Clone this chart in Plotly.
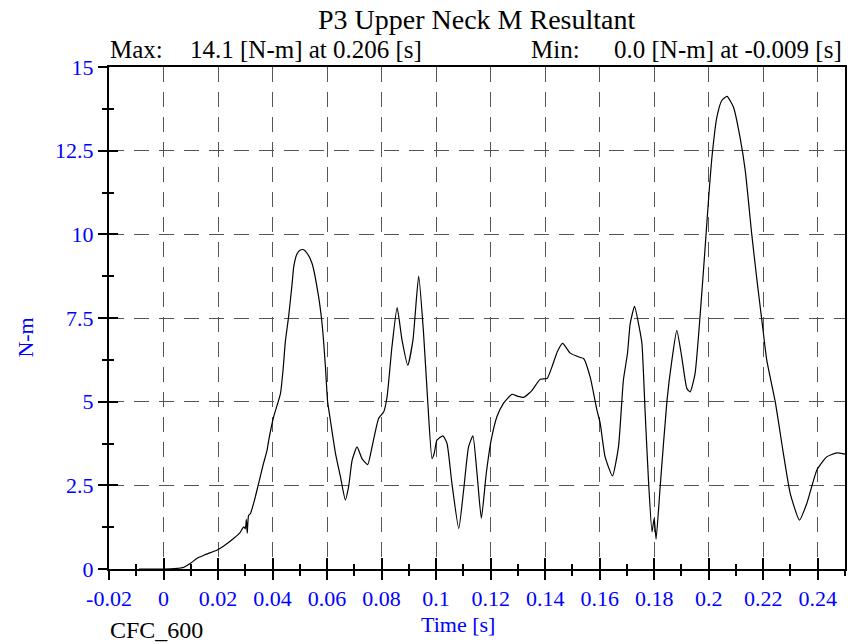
import plotly.graph_objects as go

# ---- data ----
time_s = [-0.009, 0.000, 0.004, 0.0074, 0.0099, 0.0123, 0.015, 0.0197, 0.0221, 0.0258,
          0.028, 0.0294, 0.0300, 0.0304, 0.0307, 0.0312, 0.0319, 0.0335, 0.0349, 0.0365,
          0.038, 0.0386, 0.0404, 0.0429, 0.0439, 0.0447, 0.0459, 0.0472, 0.0478, 0.049,
          0.0502, 0.0514, 0.0528, 0.0545, 0.0569, 0.0582, 0.0594, 0.0602, 0.0613, 0.0631,
          0.0649, 0.0667, 0.0679, 0.0692, 0.0710, 0.0728, 0.0749, 0.0765, 0.0789, 0.0808,
          0.0820, 0.0838, 0.0857, 0.0875, 0.0896, 0.0915, 0.0936, 0.0954, 0.0969, 0.0985,
          0.0993, 0.1003, 0.1025, 0.1040, 0.1058, 0.1083, 0.1101, 0.1119, 0.1135, 0.1150,
          0.1166, 0.1184, 0.1202, 0.1223, 0.1247, 0.1278, 0.1300, 0.1321, 0.1352, 0.1382,
          0.1407, 0.1425, 0.1445, 0.1464, 0.1492, 0.1529, 0.1541, 0.1565, 0.1590, 0.1602,
          0.1620, 0.1647, 0.1669, 0.1687, 0.1702, 0.1712, 0.1728, 0.1745, 0.1755, 0.1767,
          0.1779, 0.1792, 0.1800, 0.1807, 0.1822, 0.1847, 0.1865, 0.1883, 0.1901, 0.1920,
          0.1932, 0.1950, 0.1969, 0.1987, 0.2000, 0.2012, 0.2030, 0.2048, 0.2067, 0.2091,
          0.2115, 0.2134, 0.2158, 0.2177, 0.2195, 0.2213, 0.2244, 0.2274, 0.2299, 0.2333,
          0.2360, 0.2397, 0.2433, 0.2470, 0.2500]
moment_nm = [0.0, 0.0, 0.01, 0.05, 0.17, 0.32, 0.42, 0.57, 0.69, 0.92,
             1.08, 1.26, 1.20, 1.48, 1.07, 1.60, 1.66, 2.10, 2.56, 3.10,
             3.55, 3.85, 4.55, 5.24, 6.00, 6.80, 7.55, 8.55, 9.05, 9.42,
             9.53, 9.54, 9.42, 9.13, 8.13, 7.30, 6.04, 5.00, 4.40, 3.45,
             2.76, 2.06, 2.46, 3.25, 3.65, 3.30, 3.12, 3.65, 4.50, 4.70,
             5.14, 6.64, 7.81, 6.84, 6.09, 6.84, 8.75, 7.04, 5.04, 3.30,
             3.45, 3.85, 3.98, 3.75, 2.56, 1.21, 2.36, 3.65, 3.98, 2.86,
             1.51, 2.86, 3.85, 4.55, 4.95, 5.22, 5.16, 5.13, 5.34, 5.67,
             5.69, 6.04, 6.50, 6.74, 6.45, 6.32, 6.29, 5.74, 4.75, 4.35,
             3.35, 2.78, 3.65, 5.64, 6.44, 7.33, 7.85, 7.23, 6.74, 4.65,
             2.66, 1.11, 1.51, 0.89, 2.46, 5.04, 6.24, 7.13, 6.34, 5.39,
             5.29, 5.84, 7.63, 9.62, 11.11, 12.31, 13.50, 14.00, 14.12, 13.80,
             12.90, 11.91, 10.00, 8.63, 7.43, 6.24, 5.00, 3.45, 2.26, 1.46,
             1.96, 2.96, 3.35, 3.47, 3.43]

x_tick_vals = [-0.02, 0, 0.02, 0.04, 0.06, 0.08, 0.1, 0.12, 0.14, 0.16, 0.18, 0.2, 0.22, 0.24]
x_tick_text = ["-0.02", "0", "0.02", "0.04", "0.06", "0.08", "0.1", "0.12", "0.14",
               "0.16", "0.18", "0.2", "0.22", "0.24"]
y_tick_vals = [0, 2.5, 5, 7.5, 10, 12.5, 15]
y_tick_text = ["0", "2.5", "5", "7.5", "10", "12.5", "15"]

title_text = "P3 Upper Neck M Resultant"
max_label, max_text = "Max:", "14.1 [N-m] at 0.206 [s]"
min_label, min_text = "Min:", "0.0 [N-m] at -0.009 [s]"
x_title, y_title, filter_text = "Time [s]", "N-m", "CFC_600"

FONT = "Liberation Serif, Times New Roman, serif"
BLUE = "#0000FF"

fig = go.Figure()
fig.add_trace(go.Scatter(x=time_s, y=moment_nm, mode="lines",
                         line=dict(color="black", width=1.2, shape="spline", smoothing=0.5),
                         hoverinfo="skip", showlegend=False))
# invisible trace to host the overlay axes that draw the inner half of the ticks
fig.add_trace(go.Scatter(x=time_s, y=moment_nm, mode="lines", xaxis="x2", yaxis="y2",
                         line=dict(color="rgba(0,0,0,0)", width=0),
                         hoverinfo="skip", showlegend=False))

xr = [-0.02, 0.25]
yr = [0, 15]
grid = dict(showgrid=True, gridcolor="#555555", gridwidth=1, griddash="15px,10px")

fig.update_layout(
    width=860, height=644,
    margin=dict(l=108.5, r=15, t=66.7, b=75, pad=0),
    paper_bgcolor="white", plot_bgcolor="white",
    font=dict(family=FONT, color="black"),
    xaxis=dict(range=xr, tickmode="array", tickvals=x_tick_vals, ticktext=x_tick_text,
               ticks="outside", ticklen=9, tickwidth=1.5, tickcolor="black",
               tickfont=dict(family=FONT, size=22, color=BLUE),
               showline=True, linecolor="black", linewidth=2, mirror=True,
               zeroline=False,
               minor=dict(tickmode="linear", tick0=0, dtick=0.01, ticks="outside",
                          ticklen=5, tickwidth=1.5, tickcolor="black", showgrid=False),
               **grid),
    yaxis=dict(range=yr, tickmode="array", tickvals=y_tick_vals, ticktext=y_tick_text,
               ticks="outside", ticklen=9, tickwidth=1.5, tickcolor="black",
               tickfont=dict(family=FONT, size=22, color=BLUE),
               showline=True, linecolor="black", linewidth=2, mirror=True,
               zeroline=False,
               minor=dict(tickmode="linear", tick0=0, dtick=1.25, ticks="outside",
                          ticklen=5, tickwidth=1.5, tickcolor="black", showgrid=False),
               **grid),
    xaxis2=dict(range=xr, overlaying="x", anchor="y", side="bottom",
                tickmode="array", tickvals=x_tick_vals, ticks="inside", ticklen=11,
                tickwidth=1.5, tickcolor="black", showticklabels=False,
                showgrid=False, showline=False, zeroline=False,
                minor=dict(tickmode="linear", tick0=0, dtick=0.01, ticks="inside",
                           ticklen=5, tickwidth=1.5, tickcolor="black", showgrid=False)),
    yaxis2=dict(range=yr, overlaying="y", anchor="x", side="left",
                tickmode="array", tickvals=y_tick_vals, ticks="inside", ticklen=9,
                tickwidth=1.5, tickcolor="black", showticklabels=False,
                showgrid=False, showline=False, zeroline=False,
                minor=dict(tickmode="linear", tick0=0, dtick=1.25, ticks="inside",
                           ticklen=5, tickwidth=1.5, tickcolor="black", showgrid=False)),
)

def ann(text, x, y, size, color="black", xanchor="left", yanchor="middle", angle=0):
    fig.add_annotation(text=text, x=x, y=y, xref="paper", yref="paper", showarrow=False,
                       xanchor=xanchor, yanchor=yanchor, textangle=angle,
                       font=dict(family=FONT, size=size, color=color))

ann(title_text, 0.5, 1.095, 28, xanchor="center")
ann(max_label, -0.002, 1.035, 25)
ann(max_text, 0.428, 1.035, 25, xanchor="right")
ann(min_label, 0.571, 1.035, 25)
ann(min_text, 0.999, 1.035, 25, xanchor="right")
ann(y_title, -0.1134, 0.46, 22, color=BLUE, xanchor="center", angle=-90)
ann(x_title, 0.4746, -0.111, 22, color=BLUE, xanchor="center")
ann(filter_text, -0.002, -0.121, 24)

fig.write_html("out.html", config={"displayModeBar": False},
               post_script="document.body.style.margin='0';")
